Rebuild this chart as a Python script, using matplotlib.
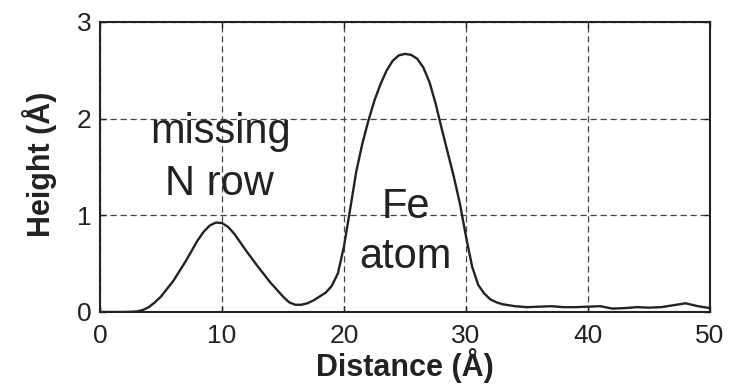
import matplotlib
matplotlib.use("Agg")
import matplotlib.pyplot as plt

distance = [0, 1, 2, 3, 3.5, 4, 4.5, 5, 6, 7, 8, 8.5, 9, 9.5, 10, 10.5, 11,
            11.5, 12, 13, 14, 15, 15.5, 16, 16.5, 17, 17.5, 18, 18.5, 19,
            19.5, 20, 20.5, 21, 21.5, 22, 22.5, 23, 23.5, 24, 24.5, 25, 25.5,
            26, 26.5, 27, 27.5, 28, 28.5, 29, 29.5, 30, 30.5, 31, 31.5, 32,
            32.5, 33, 34, 35, 36, 37, 38, 39, 40, 41, 42, 43, 44, 45, 46, 47,
            48, 49, 50]
height = [0.0, 0.0, 0.0, 0.005, 0.02, 0.05, 0.10, 0.16, 0.32, 0.52, 0.74,
          0.83, 0.895, 0.925, 0.92, 0.88, 0.81, 0.72, 0.63, 0.46, 0.30, 0.16,
          0.10, 0.075, 0.075, 0.09, 0.12, 0.16, 0.20, 0.27, 0.40, 0.68, 1.06,
          1.45, 1.74, 1.98, 2.19, 2.36, 2.50, 2.60, 2.655, 2.67, 2.66, 2.62,
          2.53, 2.38, 2.16, 1.90, 1.65, 1.40, 1.12, 0.78, 0.47, 0.28, 0.19,
          0.13, 0.10, 0.08, 0.06, 0.05, 0.055, 0.06, 0.05, 0.05, 0.055, 0.06,
          0.035, 0.04, 0.05, 0.045, 0.05, 0.07, 0.09, 0.06, 0.04]

x_ticks = [0, 10, 20, 30, 40, 50]
y_ticks = [0, 1, 2, 3]

annotations = [("missing", 9.9, 1.75), ("N row", 9.8, 1.21),
               ("Fe", 25.1, 0.97), ("atom", 25.0, 0.46)]

plt.rcParams['font.family'] = ['Liberation Sans', 'DejaVu Sans']
ink = '#222222'

fig = plt.figure(figsize=(7.39, 3.88), dpi=100)
ax = fig.add_axes([0.1353, 0.1959, 0.8255, 0.7474])

ax.plot(distance, height, color=ink, linewidth=1.7, zorder=3,
        solid_joinstyle='round')

ax.set_xlim(0, 50)
ax.set_ylim(0, 3)
ax.set_xticks(x_ticks)
ax.set_yticks(y_ticks)

ax.grid(True, linestyle=(0, (5, 3)), color='#444444', linewidth=0.9)
for s in ax.spines.values():
    s.set_linewidth(1.5)
    s.set_color(ink)

ax.tick_params(direction='in', length=4, width=1, top=True, right=True,
               labelsize=19, colors=ink)
ax.tick_params(axis='x', pad=9)
ax.tick_params(axis='y', pad=6)

ax.set_xlabel("Distance (Å)", fontsize=22, fontweight='bold', color=ink)
ax.set_ylabel("Height (Å)", fontsize=22, fontweight='bold', color=ink)
ax.xaxis.set_label_coords(0.5, -0.125)
ax.yaxis.set_label_coords(-0.07, 0.51)

for txt, x, y in annotations:
    ax.text(x, y, txt, fontsize=30, ha='center', va='baseline', color=ink,
            zorder=4)

fig.savefig("out.png", dpi=100)
